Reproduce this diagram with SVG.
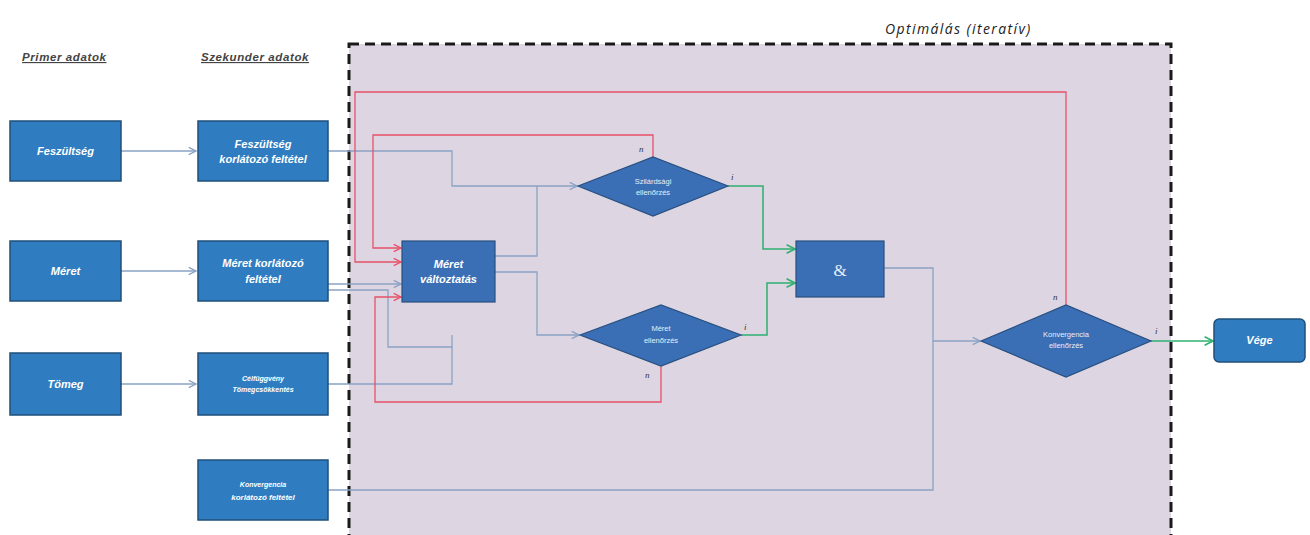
<svg xmlns="http://www.w3.org/2000/svg" width="1310" height="535" viewBox="0 0 1310 535">
<defs>
<marker id="ab" viewBox="0 0 10 10" refX="9" refY="5" markerWidth="7" markerHeight="7" orient="auto"><path d="M1,1 L9,5 L1,9" fill="none" stroke="#8aa2c4" stroke-width="1.5"/></marker>
<marker id="ar" viewBox="0 0 10 10" refX="9" refY="5" markerWidth="7" markerHeight="7" orient="auto"><path d="M1,1 L9,5 L1,9" fill="none" stroke="#e8506a" stroke-width="1.5"/></marker>
<marker id="ag" viewBox="0 0 10 10" refX="9" refY="5" markerWidth="7" markerHeight="7" orient="auto"><path d="M1,1 L9,5 L1,9" fill="none" stroke="#2fb070" stroke-width="1.5"/></marker>
</defs>
<style>
.hdr{font-family:"Liberation Sans",Arial,sans-serif;font-size:11.5px;font-style:italic;font-weight:bold;fill:#444;text-decoration:underline;letter-spacing:0.6px}
.ttl{font-family:"Open Sans","Liberation Sans",sans-serif;font-size:14px;font-style:italic;fill:#222;letter-spacing:1.4px}
.b1{fill:#2f7dc0;stroke:#1f4f7a;stroke-width:1.5}
.b2{fill:#3a6fb5;stroke:#284f80;stroke-width:1.2}
.t{font-family:"Liberation Sans",Arial,sans-serif;font-size:11px;font-style:italic;font-weight:bold;fill:#fff;text-anchor:middle}
.ts{font-family:"Liberation Sans",Arial,sans-serif;font-size:7px;font-style:italic;font-weight:bold;fill:#fff;text-anchor:middle}
.td{font-family:"Liberation Sans",Arial,sans-serif;font-size:7.5px;fill:#e6eef8;text-anchor:middle}
.lbl{font-family:"Liberation Serif",serif;font-size:9px;font-style:italic;fill:#333}
.cb{fill:none;stroke:#8aa2c4;stroke-width:1.3}
.cr{fill:none;stroke:#e8506a;stroke-width:1.3}
.cg{fill:none;stroke:#2fb070;stroke-width:1.5}
</style>
<rect width="1310" height="535" fill="#fff"/>
<g id="optimalas">
<rect x="349" y="44" width="822" height="500" fill="#ddd6e2" stroke="#1a1a1a" stroke-width="3" stroke-dasharray="10,6"/>
<text class="ttl" x="885" y="34">Optimálás (iteratív)</text>
</g>
<g id="headers">
<text class="hdr" x="22" y="61">Primer adatok</text>
<text class="hdr" x="201" y="61">Szekunder adatok</text>
</g>
<g id="connectors">
<path class="cb" d="M121,151 H196" marker-end="url(#ab)"/>
<path class="cb" d="M121,271 H196" marker-end="url(#ab)"/>
<path class="cb" d="M121,384 H196" marker-end="url(#ab)"/>
<path class="cb" d="M328,151 H452 V186 H577" marker-end="url(#ab)"/>
<path class="cb" d="M495,256 H537 V186"/>
<path class="cb" d="M495,272 H537 V335 H579" marker-end="url(#ab)"/>
<path class="cb" d="M328,284 H401" marker-end="url(#ab)"/>
<path class="cb" d="M328,290 H388 V347 H452"/>
<path class="cb" d="M328,384 H452 V335"/>
<path class="cb" d="M884,268 H933 V490 H328"/>
<path class="cb" d="M933,341 H980" marker-end="url(#ab)"/>
<path class="cr" d="M1066,305 V92 H355 V262 H401" marker-end="url(#ar)"/>
<path class="cr" d="M653,157 V135 H373 V248 H401" marker-end="url(#ar)"/>
<path class="cr" d="M661,366 V402 H375 V297 H401" marker-end="url(#ar)"/>
<path class="cg" d="M728,186 H763 V249 H795" marker-end="url(#ag)"/>
<path class="cg" d="M741,335 H767 V283 H795" marker-end="url(#ag)"/>
<path class="cg" d="M1151,341 H1213" marker-end="url(#ag)"/>
<text class="lbl" x="639" y="152">n</text>
<text class="lbl" x="731" y="180">i</text>
<text class="lbl" x="744" y="330">i</text>
<text class="lbl" x="645" y="378">n</text>
<text class="lbl" x="1053" y="300">n</text>
<text class="lbl" x="1155" y="334">i</text>
</g>
<g id="feszultseg"><rect class="b1" x="10" y="121" width="111" height="60"/><text class="t" x="65.5" y="155">Feszültség</text></g>
<g id="meret"><rect class="b1" x="10" y="241" width="111" height="60"/><text class="t" x="65.5" y="275">Méret</text></g>
<g id="tomeg"><rect class="b1" x="10" y="353" width="111" height="62"/><text class="t" x="65.5" y="388">Tömeg</text></g>
<g id="feszultseg-korlat"><rect class="b1" x="198" y="121" width="130" height="60"/><text class="t" x="263" y="148">Feszültség</text><text class="t" x="263" y="163">korlátozó feltétel</text></g>
<g id="meret-korlat"><rect class="b1" x="198" y="241" width="130" height="60"/><text class="t" x="263" y="267">Méret korlátozó</text><text class="t" x="263" y="283">feltétel</text></g>
<g id="celfuggveny"><rect class="b1" x="198" y="353" width="130" height="62"/><text class="ts" x="263" y="381">Célfüggvény</text><text class="ts" x="263" y="392">Tömegcsökkentés</text></g>
<g id="konvergencia-korlat"><rect class="b1" x="198" y="460" width="130" height="60"/><text class="ts" x="263" y="487">Konvergencia</text><text class="t" x="263" y="500" style="font-size:8px">korlátozó feltétel</text></g>
<g id="meret-valtoztatas"><rect class="b2" x="402" y="241" width="93" height="61"/><text class="t" x="448.5" y="268">Méret</text><text class="t" x="448.5" y="283">változtatás</text></g>
<g id="szilardsagi"><polygon class="b2" points="578,186 653,157 728,186 653,216"/><text class="td" x="653" y="184">Szilárdsági</text><text class="td" x="653" y="195">ellenőrzés</text></g>
<g id="meret-ellenorzes"><polygon class="b2" points="580,335 661,305 741,335 661,366"/><text class="td" x="661" y="331">Méret</text><text class="td" x="661" y="343">ellenőrzés</text></g>
<g id="es"><rect class="b2" x="796" y="241" width="88" height="56"/><text x="840" y="276" style="font-family:'Liberation Serif',serif;font-size:17px;fill:#e6eef8;text-anchor:middle">&amp;</text></g>
<g id="konvergencia"><polygon class="b2" points="981,341 1066,305 1151,341 1066,377"/><text class="td" x="1066" y="337">Konvergencia</text><text class="td" x="1066" y="348">ellenőrzés</text></g>
<g id="vege"><rect class="b1" x="1214" y="319" width="91" height="43" rx="5"/><text class="t" x="1259.5" y="344">Vége</text></g>
</svg>
